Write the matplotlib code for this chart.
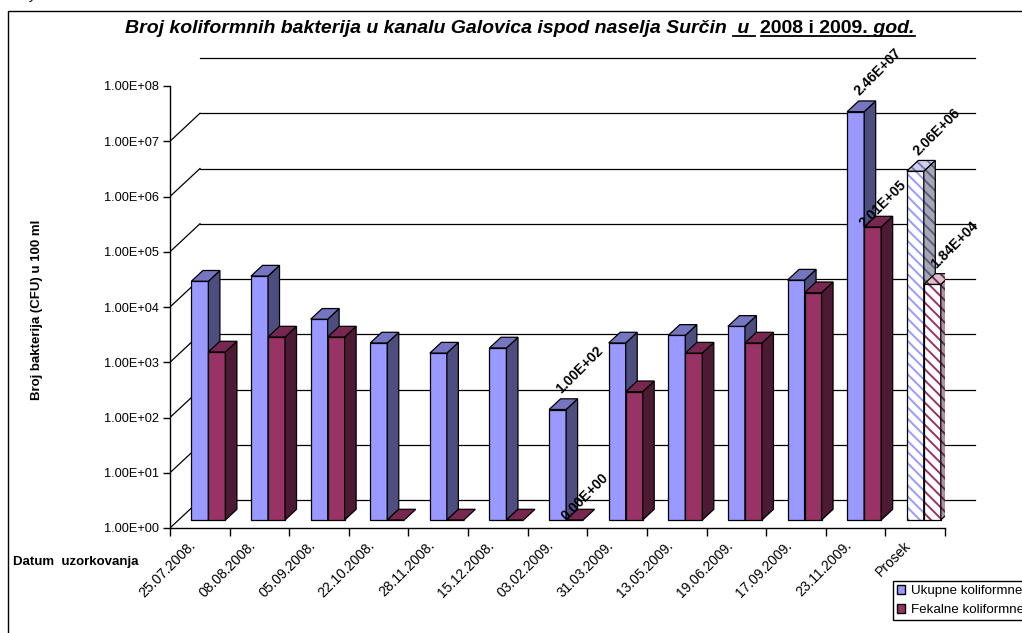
import numpy as np
import matplotlib
matplotlib.use('Agg')
import matplotlib.pyplot as plt
from matplotlib import transforms, font_manager
from matplotlib.patches import Polygon, Patch
from matplotlib.lines import Line2D

# --- data ---
dates = ['25.07.2008.', '08.08.2008.', '05.09.2008.', '22.10.2008.', '28.11.2008.',
         '15.12.2008.', '03.02.2009.', '31.03.2009.', '13.05.2009.', '19.06.2009.',
         '17.09.2009.', '23.11.2009.', 'Prosek']
ukupne = [2.1e4, 2.6e4, 4.3e3, 1.6e3, 1.05e3, 1.3e3, 1.0e2, 1.6e3, 2.2e3, 3.2e3,
          2.2e4, 2.46e7, 2.06e6]
fekalne = [1.1e3, 2.05e3, 2.05e3, 0, 0, 0, 0, 2.1e2, 1.05e3, 1.6e3,
           1.3e4, 2.01e5, 1.84e4]
labeled = [6, 11, 12]          # categories with value labels
series_names = ['Ukupne koliformne', 'Fekalne koliformne']

plt.rcParams['font.family'] = 'Liberation Sans'
plt.rcParams['hatch.linewidth'] = 1.4

W, H = 1022, 633
fig = plt.figure(figsize=(W / 100, H / 100), dpi=100)
n = len(dates)

# front plane of the 3d box in pixels
x0, x1, y_top, y_bot = 170, 945, 86, 528
ax = fig.add_axes([x0 / W, 1 - y_bot / H, (x1 - x0) / W, (y_bot - y_top) / H])
ax.set_yscale('log')
ax.set_ylim(1, 1e8)
ax.set_xlim(0, n)
ax.patch.set_visible(False)
for s in ['top', 'right']:
    ax.spines[s].set_visible(False)
for s in ['left', 'bottom']:
    ax.spines[s].set_linewidth(1.0)

WALL = (30, 28)      # depth of the box
FRONT = (8.6, 8)     # bars sit a bit behind the front plane
DEPTH = (11.5, 10.7)  # depth of a bar
ident = transforms.IdentityTransform()

# back wall gridlines and side wall diagonals
back = transforms.offset_copy(ax.transData, fig=fig, x=WALL[0], y=WALL[1], units='dots')
decades = [10.0 ** k for k in range(9)]
for d in decades:
    ax.plot([0, n], [d, d], transform=back, color='black', lw=0.9, clip_on=False, zorder=1)
    p = ax.transData.transform((0, d))
    ax.add_artist(Line2D([p[0], p[0] + WALL[0]], [p[1], p[1] + WALL[1]], transform=ident,
                         color='black', lw=0.9, zorder=1))

ax.set_yticks(decades)
ax.set_yticklabels(['%.2E' % d for d in decades])
ax.yaxis.set_minor_locator(matplotlib.ticker.NullLocator())
ax.tick_params(axis='y', which='major', direction='out', length=5, width=1,
               labelsize=9.2, pad=3)

ax.set_xticks(np.arange(n + 1))
ax.set_xticklabels([])
ax.set_xticks(np.arange(n) + 0.5, minor=True)
ax.set_xticklabels(dates, minor=True, rotation=45, ha='right', va='center',
                   rotation_mode='anchor', fontsize=10)
ax.tick_params(axis='x', which='major', direction='out', length=6, width=1)
ax.tick_params(axis='x', which='minor', length=0, pad=11)
shift = transforms.ScaledTranslation(-6 / 100, 0, fig.dpi_scale_trans)
for lab in ax.get_xticklabels(minor=True):
    lab.set_transform(lab.get_transform() + shift)

front = transforms.offset_copy(ax.transData, fig=fig, x=FRONT[0], y=FRONT[1], units='dots')

styles = [
    dict(front='#9999FF', side='#4D4D80', top='#7575C2',
         hfront=('white', '#9999FF'), hside=('#A6A6B4', '#5C5C80'), htop=('#D0D0E6', '#7575C2')),
    dict(front='#993366', side='#4D1A33', top='#782850',
         hfront=('white', '#993366'), hside=('#AC949E', '#5C2A42'), htop=('#DCC0CC', '#782850')),
]
HATCH = '\\\\\\'
bw = 0.285


def face(pts, fc, z, hatch=None):
    if hatch:
        ax.add_artist(Polygon(pts, closed=True, transform=ident, facecolor=hatch[0],
                              edgecolor=hatch[1], hatch=HATCH, lw=0, zorder=z))
        ax.add_artist(Polygon(pts, closed=True, transform=ident, fill=False,
                              edgecolor='black', lw=0.9, zorder=z))
    else:
        ax.add_artist(Polygon(pts, closed=True, transform=ident, facecolor=fc,
                              edgecolor='black', lw=0.9, zorder=z))


def bar3d(xl, v, st, z, hatched):
    val = max(v, 1.0)
    if hatched:
        ax.bar(xl, val - 1, bottom=1, width=bw, align='edge', transform=front,
               facecolor=st['hfront'][0], edgecolor=st['hfront'][1], hatch=HATCH,
               lw=0, zorder=z, clip_on=False)
        ax.bar(xl, val - 1, bottom=1, width=bw, align='edge', transform=front,
               fill=False, edgecolor='black', lw=0.9, zorder=z, clip_on=False)
    else:
        ax.bar(xl, val - 1, bottom=1, width=bw, align='edge', transform=front,
               facecolor=st['front'], edgecolor='black', lw=0.9, zorder=z, clip_on=False)
    bl = ax.transData.transform((xl, 1.0)) + FRONT
    br = ax.transData.transform((xl + bw, 1.0)) + FRONT
    tl = ax.transData.transform((xl, val)) + FRONT
    tr = ax.transData.transform((xl + bw, val)) + FRONT
    d = np.array(DEPTH)
    if val > 1.0:
        face([br, br + d, tr + d, tr], st['side'], z, st['hside'] if hatched else None)
    face([tl, tr, tr + d, tl + d], st['top'], z, st['htop'] if hatched else None)
    return (tl + tr) / 2 + d / 2


# nudged labels (Excel moved these to avoid overlap)
nudge = {(6, 1): (-12, -16), (11, 1): (-12, -16)}
for i in range(n):
    hatched = dates[i] == 'Prosek'
    for k, vals in enumerate([ukupne, fekalne]):
        xl = i + 0.5 - bw + k * bw
        tc = bar3d(xl, vals[i], styles[k], 3 + 2 * i + k, hatched)
        if i in labeled:
            dx, dy = nudge.get((i, k), (0, 0))
            ax.text(tc[0] + dx, tc[1] + 8 + dy, '%.2E' % vals[i], transform=ident,
                    rotation=45, rotation_mode='anchor', ha='left', va='bottom',
                    fontsize=10, fontweight='bold', zorder=40)

# axis titles
fig.text(37 / W, 1 - 310 / H, 'Broj bakterija (CFU) u 100 ml', rotation=90,
         ha='center', va='center', fontsize=9.5, fontweight='bold')
fig.text(13 / W, 1 - 562 / H, 'Datum  uzorkovanja', ha='left', va='center',
         fontsize=9.5, fontweight='bold')

# outer frame (only top and left edge are inside the crop)
fig.add_artist(Line2D([8 / W, 8 / W, 1], [0, 1 - 11 / H, 1 - 11 / H],
                      transform=fig.transFigure, color='black', lw=1.0))
fig.text(30 / W, 1 + 1 / H, 'y', fontsize=10, fontstyle='italic', va='baseline')

# title with underlined parts
try:
    font_manager.findfont(font_manager.FontProperties(family='Liberation Sans Narrow'),
                          fallback_to_default=False)
    tfam = 'Liberation Sans Narrow'
except Exception:
    tfam = 'Liberation Sans'
segs = [('Broj koliformnih bakterija u kanalu Galovica ispod naselja Surčin ', 'italic', False),
        (' u ', 'italic', True), (' ', 'italic', False),
        ('2008 i 2009.', 'normal', True), (' god.', 'italic', True)]
renderer = fig.canvas.get_renderer()


def width_of(t, fs, st):
    a = fig.text(0, 0, '|' + t + '|', fontsize=fs, fontweight='bold', fontstyle=st, family=tfam)
    b = fig.text(0, 0, '||', fontsize=fs, fontweight='bold', fontstyle=st, family=tfam)
    w = a.get_window_extent(renderer).width - b.get_window_extent(renderer).width
    a.remove()
    b.remove()
    return w


fs = 12.5
ws = [width_of(t, fs, st) for t, st, u in segs]
fs = fs * 791 / sum(ws)
ws = [width_of(t, fs, st) for t, st, u in segs]
xs = 520 - sum(ws) / 2
base_y = 33
for (t, st, u), w in zip(segs, ws):
    fig.text(xs / W, 1 - base_y / H, t, fontsize=fs, fontweight='bold', fontstyle=st,
             family=tfam, va='baseline', ha='left')
    if u:
        fig.add_artist(Line2D([xs / W, (xs + w) / W], [1 - (base_y + 3) / H] * 2,
                              transform=fig.transFigure, color='black', lw=1.3))
    xs += w

fig.legend(handles=[Patch(facecolor=styles[0]['front'], edgecolor='black'),
                    Patch(facecolor=styles[1]['front'], edgecolor='black')],
           labels=series_names, loc='upper left', bbox_to_anchor=(893 / W, 1 - 581 / H),
           bbox_transform=fig.transFigure, fancybox=False, edgecolor='black', framealpha=1,
           fontsize=9.6, handlelength=0.6, handleheight=0.6, handletextpad=0.45,
           borderpad=0.3, labelspacing=0.55, borderaxespad=0)

fig.savefig('out.png', dpi=100)
